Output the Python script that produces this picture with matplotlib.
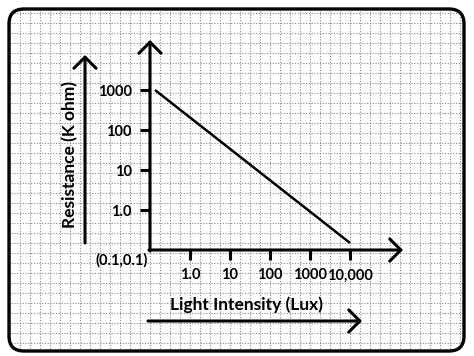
import numpy as np
import matplotlib
matplotlib.use("Agg")
import matplotlib.pyplot as plt
from matplotlib.patches import FancyBboxPatch

# data (log-log LDR characteristic)
lux = [0.133, 10000]
resistance = [1000, 0.15]
x_ticks = [1, 10, 100, 1000, 10000]
x_tick_labels = ["1.0", "10", "100", "1000", "10,000"]
y_ticks = [1, 10, 100, 1000]
y_tick_labels = ["1.0", "10", "100", "1000"]

plt.rcParams['font.family'] = ['Lato', 'DejaVu Sans']
plt.rcParams['font.weight'] = 'bold'

W, H = 474, 356
fig = plt.figure(figsize=(W / 100, H / 100), dpi=100)

# background: graph paper + rounded frame (pixel coords)
bg = fig.add_axes([0, 0, 1, 1])
bg.set_xlim(0, W)
bg.set_ylim(H, 0)
bg.axis('off')

frame = FancyBboxPatch((9, 9), 455, 342, boxstyle="round,pad=0,rounding_size=15",
                       facecolor='none', edgecolor='black', lw=2.4, zorder=5)
bg.add_patch(frame)
frame_fill = FancyBboxPatch((9, 9), 455, 342, boxstyle="round,pad=0,rounding_size=15",
                            facecolor='white', edgecolor='none', zorder=0)
bg.add_patch(frame_fill)
vl = bg.vlines(np.arange(10.5, 465, 10), 0, H, colors='#8a8a8a', lw=0.8,
               linestyles=(0, (1, 1.5)), zorder=1)
hl = bg.hlines(np.arange(13, 352, 10), 0, W, colors='#8a8a8a', lw=0.8,
               linestyles=(0, (1, 1.5)), zorder=1)
vl.set_clip_path(frame_fill)
hl.set_clip_path(frame_fill)

arrow = dict(arrowstyle='->,head_length=0.4,head_width=0.4', lw=2.2, color='black',
             mutation_scale=20, shrinkA=0, shrinkB=0)

# side arrows with labels
bg.annotate('', xy=(85, 55), xytext=(85, 243), arrowprops=arrow, zorder=3)
bg.text(70, 154, 'Resistance (K ohm)', rotation=90, ha='center', va='center',
        fontsize=12.5, fontweight='bold', zorder=3)
bg.annotate('', xy=(362, 321), xytext=(148, 321), arrowprops=arrow, zorder=3)
bg.text(247, 305, 'Light Intensity (Lux)', ha='center', va='center',
        fontsize=12.5, fontweight='bold', zorder=3)

# main log-log axes
ax = fig.add_axes([150 / W, (H - 250) / H, (403 - 150) / W, (250 - 40) / H])
ax.patch.set_alpha(0)
ax.set_xscale('log')
ax.set_yscale('log')
ax.set_xlim(0.1, 10 ** 5.325)
ax.set_ylim(0.1, 10 ** 4.25)
for s in ax.spines.values():
    s.set_visible(False)

ax.annotate('', xy=(1, 0), xytext=(-0.004, 0), xycoords='axes fraction', arrowprops=arrow)
ax.annotate('', xy=(0, 1), xytext=(0, -0.005), xycoords='axes fraction', arrowprops=arrow)

ax.set_xticks(x_ticks, x_tick_labels)
ax.set_yticks(y_ticks, y_tick_labels)
ax.minorticks_off()
ax.tick_params(axis='both', direction='out', length=7.2, width=2.2, labelsize=10.5)
ax.tick_params(axis='x', pad=6)
ax.tick_params(axis='y', pad=6)
for lab in ax.get_xticklabels() + ax.get_yticklabels():
    lab.set_fontweight('bold')

ax.plot(lux, resistance, color='black', lw=1.8, solid_capstyle='butt')
ax.annotate('(0.1,0.1)', xy=(0.1, 0.1), xytext=(-2, -10), textcoords='offset pixels',
            ha='right', va='center', fontsize=10.5, fontweight='bold', annotation_clip=False)

fig.savefig('out.png', dpi=100)
